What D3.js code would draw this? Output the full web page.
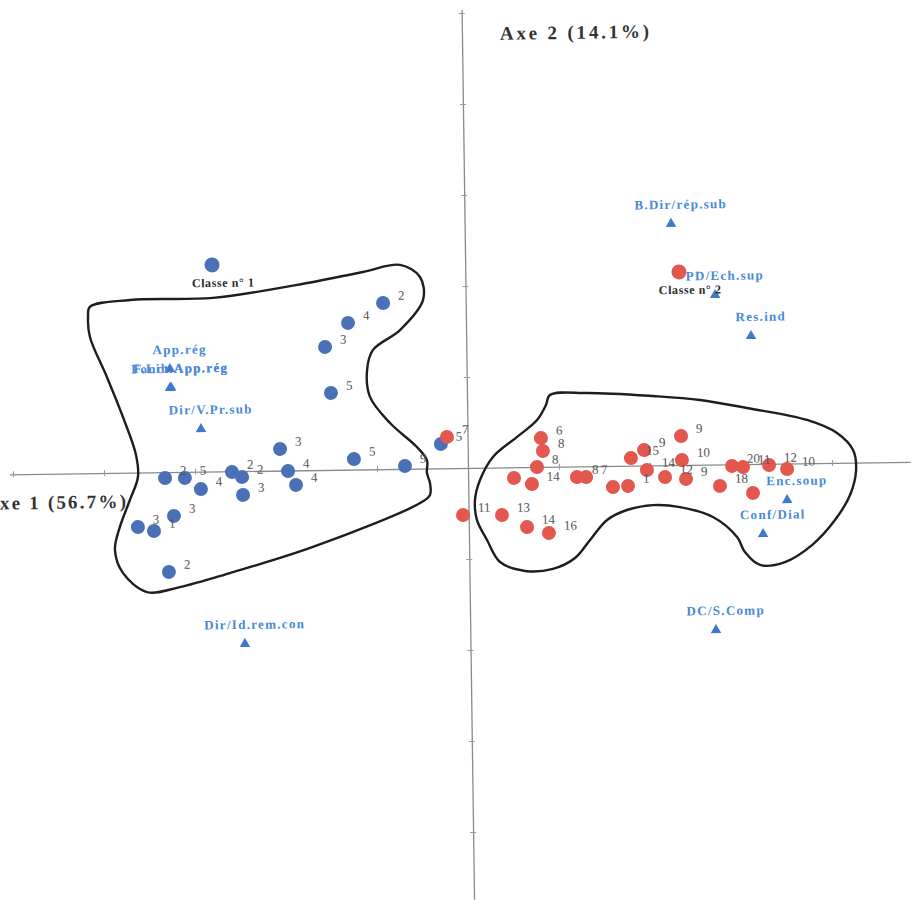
<!DOCTYPE html>
<html>
<head>
<meta charset="utf-8">
<script src="https://cdn.jsdelivr.net/npm/d3@7"></script>
<style>
  body { margin: 0; background: #fff; }
  svg { display: block; }
</style>
</head>
<body>
<svg id="chart" width="914" height="912"></svg>
<script>
// Factorial plane: axis 1 vs axis 2 coordinates.

// Class 1 observations: [axis 1, axis 2, label]
const class1Obs = [
  [-0.454,  0.913, "2"],
  [-0.648,  0.806, "4"],
  [-0.776,  0.676, "3"],
  [-0.747,  0.423, "5"],
  [-1.031,  0.119, "3"],
  [-0.626,  0.058, "5"],
  [-0.346,  0.016, "9"],
  [-0.147,  0.134, "5"],
  [-1.665, -0.032, "2"],
  [-1.556, -0.033, "5"],
  [-1.469, -0.095, "4"],
  [-1.297, -0.004, "2"],
  [-1.242, -0.032, "2"],
  [-1.238, -0.131, "3"],
  [-0.989, -0.003, "4"],
  [-0.946, -0.080, "4"],
  [-1.619, -0.241, "3"],
  [-1.818, -0.299, "3"],
  [-1.730, -0.322, "1"],
  [-1.651, -0.548, "2"]
];

// Class 2 observations: [axis 1, axis 2, label]
const class2Obs = [
  [-0.113,  0.172, "7"],
  [-0.031, -0.258, "11"],
  [ 0.403,  0.159, "6"],
  [ 0.413,  0.088, "8"],
  [ 0.379,  0.000, "8"],
  [ 0.252, -0.058, ""],
  [ 0.350, -0.093, "14"],
  [ 0.598, -0.058, "8"],
  [ 0.648, -0.059, "7"],
  [ 0.183, -0.261, "13"],
  [ 0.320, -0.329, "14"],
  [ 0.440, -0.363, "16"],
  [ 0.795, -0.116, ""],
  [ 0.878, -0.111, "1"],
  [ 0.896,  0.042, "15"],
  [ 0.969,  0.085, "9"],
  [ 0.983, -0.025, "14"],
  [ 1.082, -0.065, "12"],
  [ 1.173,  0.159, "9"],
  [ 1.176,  0.027, "10"],
  [ 1.197, -0.077, "9"],
  [ 1.383, -0.118, "18"],
  [ 1.451, -0.009, "20"],
  [ 1.511, -0.016, "11"],
  [ 1.564, -0.159, ""],
  [ 1.654, -0.007, "12"],
  [ 1.753, -0.030, "10"]
];

// Class centres: [name, axis 1, axis 2, class]
const classCentres = [
  ["Classe n° 1", -1.391, 1.135, 1],
  ["Classe n° 2",  1.174, 1.061, 2]
];

// Supplementary modalities (triangles): [name, axis 1, axis 2]
const modalities = [
  ["App.rég",        -1.630,  0.572],
  ["Fonct.App.rég",  -1.631,  0.468],
  ["F.Lib.App.rég",  -1.625,  0.470],
  ["Dir/V.Pr.sub",   -1.464,  0.240],
  ["Dir/Id.rem.con", -1.239, -0.944],
  ["B.Dir/rép.sub",   1.134,  1.331],
  ["PD/Ech.sup",      1.371,  0.937],
  ["Res.ind",         1.565,  0.709],
  ["Enc.soup",        1.751, -0.195],
  ["Conf/Dial",       1.616, -0.380],
  ["DC/S.Comp",       1.350, -0.904]
];

// Hand-drawn class envelopes (closed curves through these points)
const hull1 = [
  [-2.065, 0.914], [-1.844, 0.949], [-1.388, 0.954], [-0.925, 1.019], [-0.562, 1.085],
  [-0.358, 1.121], [-0.249, 1.053], [-0.234, 0.927], [-0.363, 0.763], [-0.513, 0.656],
  [-0.547, 0.546], [-0.533, 0.398], [-0.425, 0.253], [-0.279, 0.119], [-0.225, 0.047],
  [-0.226, -0.024], [-0.210, -0.080], [-0.211, -0.145], [-0.266, -0.189], [-0.858, -0.422],
  [-1.316, -0.559], [-1.592, -0.632], [-1.773, -0.657], [-1.904, -0.550], [-1.946, -0.423],
  [-1.917, -0.297], [-1.860, -0.150], [-1.814, -0.024], [-1.823, 0.097], [-1.892, 0.307],
  [-1.977, 0.528], [-2.067, 0.749], [-2.076, 0.859]
];
const hull2 = [
  [0.456, 0.395], [0.660, 0.403], [1.022, 0.381], [1.280, 0.356], [1.538, 0.308],
  [1.866, 0.238], [2.030, 0.164], [2.117, 0.069], [2.132, -0.041], [2.097, -0.178],
  [2.012, -0.314], [1.884, -0.450], [1.734, -0.541], [1.597, -0.555], [1.515, -0.483],
  [1.473, -0.400], [1.342, -0.288], [1.162, -0.231], [1.014, -0.218], [0.870, -0.243],
  [0.760, -0.296], [0.665, -0.405], [0.581, -0.503], [0.459, -0.561], [0.305, -0.570],
  [0.169, -0.519], [0.099, -0.397], [0.045, -0.286], [0.036, -0.176], [0.065, -0.067],
  [0.138, 0.059], [0.272, 0.167], [0.383, 0.258], [0.433, 0.340]
];

const axisTitles = ["Axe 1 (56.7%)", "Axe 2 (14.1%)"];
const xDomain = [-2.52, 2.43];
const yDomain = [-2.37, 2.52];
const xTicks = [-2.5, -2, -1.5, -1, -0.5, 0.5, 1, 1.5, 2];
const yTicks = [-2, -1.5, -1, -0.5, 0.5, 1, 1.5, 2, 2.5];

// ---- layout ----
const ox = 468, oy = 468, unit = 182;
const x = d3.scaleLinear().domain(xDomain).range(xDomain.map(v => ox + v * unit));
const y = d3.scaleLinear().domain(yDomain).range(yDomain.map(v => oy - v * unit));

const BLUE = "#4a71b8", RED = "#e2574e", LABEL_BLUE = "#4a88d8";
const serif = "'Liberation Serif', 'Times New Roman', serif";

const svg = d3.select("#chart");
svg.append("rect").attr("width", 914).attr("height", 912).attr("fill", "#fff");

// The plot is slightly tilted, as in the printed figure.
const g = svg.append("g").attr("transform", `rotate(-0.8, ${ox}, ${oy})`);

// Axes through the origin
const xAxis = d3.axisBottom(x).tickValues(xTicks).tickSize(6).tickSizeOuter(0).tickFormat("");
const yAxis = d3.axisLeft(y).tickValues(yTicks).tickSize(6).tickSizeOuter(0).tickFormat("");

const gx = g.append("g").attr("transform", `translate(0,${y(0)})`).call(xAxis);
gx.selectAll(".tick line").attr("y1", -3).attr("y2", 3);
const gy = g.append("g").attr("transform", `translate(${x(0)},0)`).call(yAxis);
gy.selectAll(".tick line").attr("x1", -3).attr("x2", 3);
[gx, gy].forEach(a => {
  a.select(".domain").attr("stroke", "#8a8a8a").attr("stroke-width", 1.3);
  a.selectAll(".tick line").attr("stroke", "#9a9a9a").attr("stroke-width", 1);
});

// Axis titles
g.append("text")
  .attr("x", x(0) + 38).attr("y", y(2.35))
  .attr("font-family", serif).attr("font-weight", "bold").attr("font-size", 19)
  .attr("letter-spacing", 2.8).attr("fill", "#333")
  .text(axisTitles[1]);
g.append("text")
  .attr("x", x(-1.87)).attr("y", y(0) + 35)
  .attr("text-anchor", "end")
  .attr("font-family", serif).attr("font-weight", "bold").attr("font-size", 19)
  .attr("letter-spacing", 2.2).attr("fill", "#333")
  .text(axisTitles[0]);

// Class envelopes
const envelope = d3.line()
  .x(d => x(d[0])).y(d => y(d[1]))
  .curve(d3.curveCatmullRomClosed.alpha(0.5));
g.selectAll("path.hull")
  .data([hull1, hull2])
  .join("path")
  .attr("class", "hull")
  .attr("d", envelope)
  .attr("fill", "none")
  .attr("stroke", "#1e1e1e")
  .attr("stroke-width", 2.4)
  .attr("stroke-linejoin", "round");

// Modalities: triangles + labels
const tri = d3.symbol().type(d3.symbolTriangle).size(48);
g.selectAll("path.mod")
  .data(modalities)
  .join("path")
  .attr("class", "mod")
  .attr("d", tri)
  .attr("transform", d => `translate(${x(d[1])},${y(d[2]) + 1})`)
  .attr("fill", "#3f78cc");
g.selectAll("text.mod")
  .data(modalities)
  .join("text")
  .attr("class", "mod")
  .attr("x", d => x(d[1]) + 10)
  .attr("y", d => y(d[2]) - 14)
  .attr("text-anchor", "middle")
  .attr("font-family", serif).attr("font-weight", "bold").attr("font-size", 13)
  .attr("letter-spacing", 1.3)
  .attr("fill", LABEL_BLUE)
  .text(d => d[0]);

// Observation dots
const obs = [
  ...class1Obs.map(d => ({ v: d, c: 1 })),
  ...class2Obs.map(d => ({ v: d, c: 2 }))
];
g.selectAll("circle.obs")
  .data(obs)
  .join("circle")
  .attr("class", "obs")
  .attr("cx", d => x(d.v[0]))
  .attr("cy", d => y(d.v[1]))
  .attr("r", 7)
  .attr("fill", d => d.c === 1 ? BLUE : RED);

// Observation labels
g.selectAll("text.obs")
  .data(obs.filter(d => d.v[2] !== ""))
  .join("text")
  .attr("class", "obs")
  .attr("x", d => x(d.v[0]) + 15)
  .attr("y", d => y(d.v[1]) - 3)
  .attr("font-family", serif).attr("font-size", 13)
  .attr("fill", "#555")
  .text(d => d.v[2]);

// Class centres
g.selectAll("circle.centre")
  .data(classCentres)
  .join("circle")
  .attr("class", "centre")
  .attr("cx", d => x(d[1]))
  .attr("cy", d => y(d[2]))
  .attr("r", 7.5)
  .attr("fill", d => d[3] === 1 ? BLUE : RED);
g.selectAll("text.centre")
  .data(classCentres)
  .join("text")
  .attr("class", "centre")
  .attr("x", d => x(d[1]) + 11)
  .attr("y", d => y(d[2]) + 22)
  .attr("text-anchor", "middle")
  .attr("font-family", serif).attr("font-weight", "bold").attr("font-size", 12)
  .attr("letter-spacing", 0.6)
  .attr("fill", "#2a2a2a")
  .text(d => d[0]);
</script>
</body>
</html>
